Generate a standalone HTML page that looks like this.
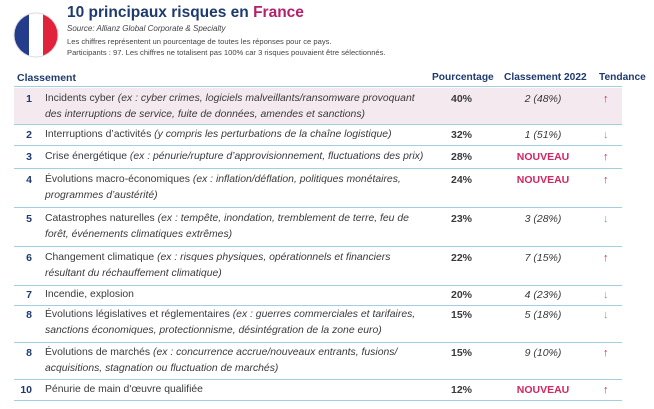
<!DOCTYPE html>
<html><head><meta charset="utf-8"><style>
body{margin:0;width:654px;height:409px;background:#fff;font-family:"Liberation Sans",sans-serif;position:relative;overflow:hidden;color:#3a3a3a}
.a{position:absolute;white-space:nowrap}
.row{position:absolute;left:14px;width:608px;border-bottom:1.5px solid #9fcfe0}
.n{position:absolute;left:0;width:18px;text-align:right;font-weight:bold;color:#1e3a6e;font-size:10.5px}
.d{position:absolute;left:31px;font-size:10.4px;line-height:16px;color:#3a3a3a;white-space:nowrap}
.p{position:absolute;left:418px;width:40px;text-align:right;font-weight:bold;font-size:10.5px}
.c{position:absolute;left:484px;width:90px;text-align:center;font-style:italic;font-size:10.5px}
.c.nv{font-style:normal;font-weight:bold;color:#d1265f}
.t{position:absolute;left:589px;font-size:11px;font-weight:bold}
.up{color:#d1265f}.dn{color:#6fb26f}
</style></head><body>
<svg class="a" style="left:13px;top:12px" width="46" height="46" viewBox="0 0 46 46"><defs><clipPath id="k"><circle cx="23" cy="23" r="22"/></clipPath></defs><g clip-path="url(#k)"><rect x="0" y="0" width="16" height="46" fill="#243c8c"/><rect x="16" y="0" width="14" height="46" fill="#fff"/><rect x="30" y="0" width="16" height="46" fill="#e0233a"/></g><circle cx="23" cy="23" r="22" fill="none" stroke="#ddd" stroke-width="1"/></svg>
<div class="a" style="left:67px;top:4px;font-size:15.5px;font-weight:bold;color:#1e3a6e">10 principaux risques en <span style="color:#b5206b">France</span></div>
<div class="a" style="left:67px;top:24px;font-size:8px;font-style:italic;color:#444">Source: Allianz Global Corporate &amp; Specialty</div>
<div class="a" style="left:67px;top:37px;font-size:7.6px;color:#444">Les chiffres représentent un pourcentage de toutes les réponses pour ce pays.</div>
<div class="a" style="left:67px;top:48px;font-size:7.6px;color:#444">Participants : 97. Les chiffres ne totalisent pas 100% car 3 risques pouvaient être sélectionnés.</div>
<div class="a" style="left:17px;top:72px;font-size:10.5px;font-weight:bold;color:#1e3a6e">Classement</div>
<div class="a" style="left:432px;top:72px;font-size:10.2px;font-weight:bold;color:#1e3a6e">Pourcentage</div>
<div class="a" style="left:504px;top:72px;font-size:10.2px;font-weight:bold;color:#1e3a6e">Classement 2022</div>
<div class="a" style="left:599px;top:72px;font-size:10.2px;font-weight:bold;color:#1e3a6e">Tendance</div>
<div class="row" style="top:86px;height:0"></div>
<div class="row" style="top:88px;height:36px;background:#f3e9ef"><span class="n" style="top:5px">1</span><div class="d" style="top:3px">Incidents cyber <i>(ex : cyber crimes, logiciels malveillants/ransomware provoquant<br>des interruptions de service, fuite de données, amendes et sanctions)</i></div><span class="p" style="top:5px">40%</span><span class="c" style="top:5px">2 (48%)</span><span class="t up" style="top:5px">↑</span></div>
<div class="row" style="top:125px;height:20px"><span class="n" style="top:4px">2</span><div class="d" style="top:2px">Interruptions d’activités <i>(y compris les perturbations de la chaîne logistique)</i></div><span class="p" style="top:4px">32%</span><span class="c" style="top:4px">1 (51%)</span><span class="t dn" style="top:4px">↓</span></div>
<div class="row" style="top:146px;height:22px"><span class="n" style="top:5px">3</span><div class="d" style="top:3px">Crise énergétique <i>(ex : pénurie/rupture d’approvisionnement, fluctuations des prix)</i></div><span class="p" style="top:5px">28%</span><span class="c nv" style="top:5px">NOUVEAU</span><span class="t up" style="top:5px">↑</span></div>
<div class="row" style="top:169px;height:38px"><span class="n" style="top:5px">4</span><div class="d" style="top:3px">Évolutions macro-économiques <i>(ex : inflation/déflation, politiques monétaires,<br>programmes d’austérité)</i></div><span class="p" style="top:5px">24%</span><span class="c nv" style="top:5px">NOUVEAU</span><span class="t up" style="top:5px">↑</span></div>
<div class="row" style="top:208px;height:38px"><span class="n" style="top:5px">5</span><div class="d" style="top:3px">Catastrophes naturelles <i>(ex : tempête, inondation, tremblement de terre, feu de<br>forêt, événements climatiques extrêmes)</i></div><span class="p" style="top:5px">23%</span><span class="c" style="top:5px">3 (28%)</span><span class="t dn" style="top:5px">↓</span></div>
<div class="row" style="top:247px;height:38px"><span class="n" style="top:5px">6</span><div class="d" style="top:3px">Changement climatique <i>(ex : risques physiques, opérationnels et financiers<br>résultant du réchauffement climatique)</i></div><span class="p" style="top:5px">22%</span><span class="c" style="top:5px">7 (15%)</span><span class="t up" style="top:5px">↑</span></div>
<div class="row" style="top:286px;height:19px"><span class="n" style="top:3px">7</span><div class="d" style="top:1px">Incendie, explosion</div><span class="p" style="top:3px">20%</span><span class="c" style="top:3px">4 (23%)</span><span class="t dn" style="top:3px">↓</span></div>
<div class="row" style="top:306px;height:36px"><span class="n" style="top:3px">8</span><div class="d" style="top:1px">Évolutions législatives et réglementaires <i>(ex : guerres commerciales et tarifaires,<br>sanctions économiques, protectionnisme, désintégration de la zone euro)</i></div><span class="p" style="top:3px">15%</span><span class="c" style="top:3px">5 (18%)</span><span class="t dn" style="top:3px">↓</span></div>
<div class="row" style="top:343px;height:36px"><span class="n" style="top:4px">8</span><div class="d" style="top:2px">Évolutions de marchés <i>(ex : concurrence accrue/nouveaux entrants, fusions/<br>acquisitions, stagnation ou fluctuation de marchés)</i></div><span class="p" style="top:4px">15%</span><span class="c" style="top:4px">9 (10%)</span><span class="t up" style="top:4px">↑</span></div>
<div class="row" style="top:380px;height:20px"><span class="n" style="top:4px">10</span><div class="d" style="top:2px">Pénurie de main d'œuvre qualifiée</div><span class="p" style="top:4px">12%</span><span class="c nv" style="top:4px">NOUVEAU</span><span class="t up" style="top:4px">↑</span></div>
</body></html>
